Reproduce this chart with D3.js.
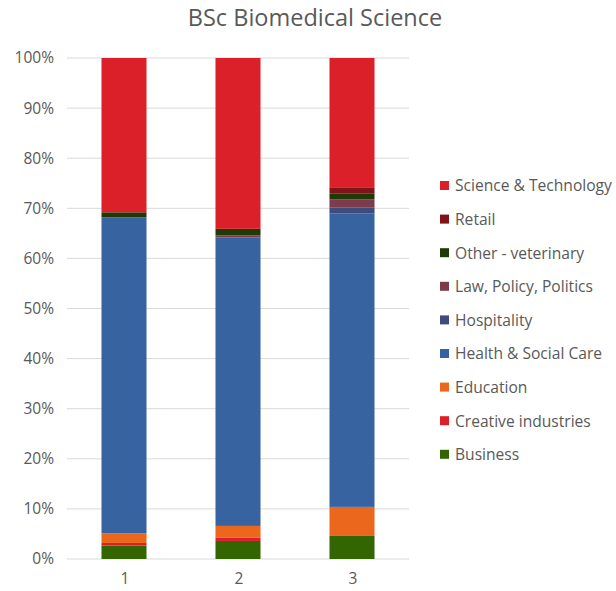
<!DOCTYPE html>
<html>
<head>
<meta charset="utf-8">
<script src="https://cdn.jsdelivr.net/npm/d3@7/dist/d3.min.js"></script>
<style>
  body { margin: 0; background: #fff; }
  svg { display: block; font-family: "Open Sans", "Liberation Sans", sans-serif; }
</style>
</head>
<body>
<svg id="chart" width="616" height="591"></svg>
<script>
// Years of study
const years = ["1", "2", "3"];

// Sector series, bottom of the stack first (percent of graduates)
const sectors = ["Business", "Creative industries", "Education", "Health & Social Care",
  "Hospitality", "Law, Policy, Politics", "Other - veterinary", "Retail", "Science & Technology"];
const business    = [2.7, 3.6, 4.6];
const creative    = [0.5, 0.7, 0];
const education   = [1.9, 2.3, 5.8];
const health      = [63.1, 57.6, 58.6];
const hospitality = [0, 0, 1.2];
const law         = [0, 0.4, 1.6];
const otherVet    = [1.0, 1.3, 1.1];
const retail      = [0, 0, 1.3];
const science     = [30.8, 34.1, 25.8];

const colors = ["#336600", "#DC202A", "#EA671D", "#3763A0", "#3F4A7D", "#7E3B4B", "#1F3A06", "#7F1519", "#DC202A"];
const yTicks = [0, 10, 20, 30, 40, 50, 60, 70, 80, 90, 100];

const seriesValues = [business, creative, education, health, hospitality, law, otherVet, retail, science];
const rows = years.map((y, i) => {
  const r = { year: y };
  sectors.forEach((s, k) => r[s] = seriesValues[k][i]);
  return r;
});

const svg = d3.select("#chart");
const x = d3.scaleBand().domain(years).range([67, 409]).paddingInner(0.605).paddingOuter(0.3025);
const y = d3.scaleLinear().domain([0, 100]).range([559, 58]);

// Gridlines
svg.append("g").selectAll("line").data(yTicks).join("line")
  .attr("x1", 67).attr("x2", 409)
  .attr("y1", d => y(d)).attr("y2", d => y(d))
  .attr("stroke", "#d9d9d9").attr("stroke-width", 1);

// Y axis labels
const yAxis = svg.append("g").attr("transform", "translate(54,0)")
  .call(d3.axisLeft(y).tickValues(yTicks).tickFormat(d => d + "%").tickSize(0).tickPadding(0));
yAxis.select(".domain").remove();
yAxis.selectAll("text").attr("fill", "#595959").style("font-size", "15.5px")
  .style("font-family", "'Open Sans', 'Liberation Sans', sans-serif");

// X axis labels
const xAxis = svg.append("g").attr("transform", "translate(1,570)")
  .call(d3.axisBottom(x).tickSize(0).tickPadding(3));
xAxis.select(".domain").remove();
xAxis.selectAll("text").attr("fill", "#595959").style("font-size", "15.5px")
  .style("font-family", "'Open Sans', 'Liberation Sans', sans-serif");

// Stacked bars
const stack = d3.stack().keys(sectors)(rows);
svg.append("g").selectAll("g").data(stack).join("g")
  .attr("fill", (d, i) => colors[i])
  .selectAll("rect").data(d => d).join("rect")
  .attr("x", d => x(d.data.year))
  .attr("width", x.bandwidth())
  .attr("y", d => y(d[1]))
  .attr("height", d => Math.max(0, y(d[0]) - y(d[1])));

// Title
svg.append("text").attr("x", 315).attr("y", 26).attr("text-anchor", "middle")
  .attr("fill", "#595959").style("font-size", "23.5px").text("BSc Biomedical Science");

// Legend, top entry is the top of the stack
const legendItems = sectors.map((s, i) => ({ name: s, color: colors[i] })).reverse();
const lg = svg.append("g").selectAll("g").data(legendItems).join("g")
  .attr("transform", (d, i) => `translate(440,${186 + i * 33.6})`);
lg.append("rect").attr("x", 0).attr("y", -5).attr("width", 9).attr("height", 9).attr("fill", d => d.color);
lg.append("text").attr("x", 15).attr("y", 0).attr("dy", "0.35em")
  .attr("fill", "#595959").style("font-size", "15.6px").text(d => d.name);
</script>
</body>
</html>
